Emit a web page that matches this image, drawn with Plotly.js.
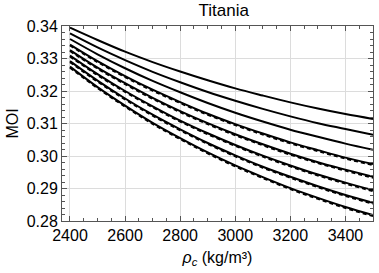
<!DOCTYPE html>
<html>
<head>
<meta charset="utf-8">
<script src="https://cdn.plot.ly/plotly-3.0.1.min.js"></script>
<style>html,body{margin:0;padding:0;background:#fff;}#chart{width:379px;height:273px;}</style>
</head>
<body>
<div id="chart"></div>
<script>
const rhoC = [2400, 2500, 2600, 2700, 2800, 2900, 3000, 3100, 3200, 3300, 3400, 3500];

const solid1 = [0.3395, 0.3357, 0.3321, 0.3289, 0.3260, 0.3233, 0.3208, 0.3186, 0.3165, 0.3146, 0.3129, 0.3114];
const solid2 = [0.3377, 0.3334, 0.3295, 0.3259, 0.3227, 0.3197, 0.3170, 0.3145, 0.3122, 0.3101, 0.3083, 0.3065];
const solid3 = [0.3360, 0.3313, 0.3270, 0.3231, 0.3196, 0.3163, 0.3133, 0.3106, 0.3081, 0.3059, 0.3038, 0.3019];
const solid4 = [0.3343, 0.3292, 0.3246, 0.3204, 0.3166, 0.3130, 0.3098, 0.3069, 0.3042, 0.3018, 0.2995, 0.2975];
const solid5 = [0.3326, 0.3272, 0.3224, 0.3179, 0.3138, 0.3101, 0.3067, 0.3036, 0.3007, 0.2981, 0.2958, 0.2936];
const solid6 = [0.3309, 0.3252, 0.3200, 0.3153, 0.3109, 0.3070, 0.3034, 0.3001, 0.2971, 0.2943, 0.2918, 0.2895];
const solid7 = [0.3292, 0.3232, 0.3177, 0.3127, 0.3082, 0.3040, 0.3002, 0.2967, 0.2936, 0.2907, 0.2880, 0.2856];
const solid8 = [0.3275, 0.3212, 0.3155, 0.3102, 0.3055, 0.3011, 0.2971, 0.2935, 0.2901, 0.2871, 0.2843, 0.2818];

const dashed4 = [0.3340, 0.3289, 0.3243, 0.3201, 0.3163, 0.3127, 0.3095, 0.3066, 0.3039, 0.3015, 0.2992, 0.2972];
const dashed5 = [0.3323, 0.3269, 0.3221, 0.3176, 0.3135, 0.3098, 0.3064, 0.3033, 0.3004, 0.2978, 0.2955, 0.2933];
const dashed6 = [0.3306, 0.3249, 0.3197, 0.3150, 0.3106, 0.3067, 0.3031, 0.2998, 0.2968, 0.2940, 0.2915, 0.2892];
const dashed7 = [0.3289, 0.3229, 0.3174, 0.3124, 0.3079, 0.3037, 0.2999, 0.2964, 0.2933, 0.2904, 0.2877, 0.2853];
const dashed8 = [0.3272, 0.3209, 0.3152, 0.3099, 0.3052, 0.3008, 0.2968, 0.2932, 0.2898, 0.2868, 0.2840, 0.2815];

const solids = [solid1, solid2, solid3, solid4, solid5, solid6, solid7, solid8];
const dashes = [dashed4, dashed5, dashed6, dashed7, dashed8];

const traces = [];
solids.forEach(s => traces.push({x: rhoC, y: s, type: 'scatter', mode: 'lines',
  line: {color: '#000', width: 2, shape: 'spline'}, showlegend: false, hoverinfo: 'skip'}));
dashes.forEach(s => traces.push({x: rhoC, y: s, type: 'scatter', mode: 'lines',
  line: {color: '#000', width: 2, dash: '4px,3px', shape: 'spline'}, showlegend: false, hoverinfo: 'skip'}));

const font = {family: 'Liberation Sans, Arial, Helvetica, sans-serif', color: '#000'};
const layout = {
  width: 379, height: 273,
  margin: {l: 62, r: 6, t: 26, b: 52},
  paper_bgcolor: '#fff', plot_bgcolor: '#fff',
  font: Object.assign({size: 16}, font),
  title: {text: 'Titania', font: Object.assign({size: 17}, font), xref: 'paper', x: 0.52, xanchor: 'center', yref: 'container', y: 0.965, yanchor: 'middle'},
  xaxis: {
    range: [2371, 3500], tick0: 2400, dtick: 200,
    ticks: 'inside', ticklen: 5, tickcolor: '#555', mirror: 'allticks',
    showline: true, linecolor: '#555', linewidth: 1,
    showgrid: true, gridcolor: '#dcdcdc', gridwidth: 1, zeroline: false,
    minor: {dtick: 50, ticks: 'inside', ticklen: 3, tickcolor: '#555', showgrid: false},
    tickfont: Object.assign({size: 16}, font),
    title: {text: '<i>ρ</i><sub><i>c</i></sub> (kg/m³)', font: Object.assign({size: 16}, font), standoff: 8}
  },
  yaxis: {
    range: [0.28, 0.34], tick0: 0.28, dtick: 0.01, tickformat: '.2f',
    ticks: 'inside', ticklen: 5, tickcolor: '#555', mirror: 'allticks',
    showline: true, linecolor: '#555', linewidth: 1,
    showgrid: true, gridcolor: '#dcdcdc', gridwidth: 1, zeroline: false,
    minor: {dtick: 0.002, ticks: 'inside', ticklen: 3, tickcolor: '#555', showgrid: false},
    tickfont: Object.assign({size: 16}, font),
    title: {text: 'MOI', font: Object.assign({size: 16}, font), standoff: 4}
  }
};
Plotly.newPlot('chart', traces, layout, {staticPlot: true, displayModeBar: false});
</script>
</body>
</html>
